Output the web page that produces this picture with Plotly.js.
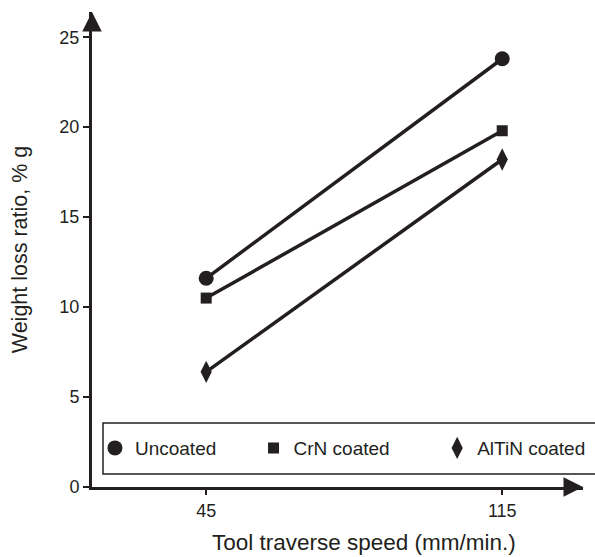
<!DOCTYPE html>
<html>
<head>
<meta charset="utf-8">
<script src="https://cdn.plot.ly/plotly-3.0.1.min.js"></script>
<style>html,body{margin:0;padding:0;background:#fff;}#chart{width:595px;height:557px;}</style>
</head>
<body>
<div id="chart"></div>
<script>
// Data
const speeds = [45, 115];
const uncoated = [11.6, 23.8];
const crnCoated = [10.5, 19.8];
const altinCoated = [6.4, 18.2];
const seriesNames = ["Uncoated", "CrN coated", "AlTiN coated"];
const xTickVals = [45, 115];
const yTickVals = [0, 5, 10, 15, 20, 25];
const xTitle = "Tool traverse speed (mm/min.)";
const yTitle = "Weight loss ratio, % g";

const ink = "#231f20";
const font = "Liberation Sans, Arial, sans-serif";

const seriesData = [uncoated, crnCoated, altinCoated];
const symbols = ["circle", "square", "diamond-tall"];
const sizes = [15, 11, 16];
const legendIds = ["legend", "legend2", "legend3"];

const traces = [];
seriesData.forEach((ys, i) => {
  traces.push({
    x: speeds, y: ys, type: "scatter", mode: "lines+markers",
    name: seriesNames[i], showlegend: false,
    line: {color: ink, width: 3.5},
    marker: {symbol: symbols[i], size: sizes[i], color: ink},
    cliponaxis: false
  });
  traces.push({
    x: [null], y: [null], type: "scatter", mode: "markers",
    name: seriesNames[i], showlegend: true, legend: legendIds[i],
    marker: {symbol: symbols[i], size: sizes[i], color: ink}
  });
});

const legendXs = [0.006, 0.329, 0.703];
const legendCommon = (x) => ({
  x: x, y: 0.082, xanchor: "left", yanchor: "middle",
  bgcolor: "rgba(0,0,0,0)", borderwidth: 0,
  font: {family: font, size: 19, color: ink},
  itemclick: false, itemdoubleclick: false
});

const layout = {
  width: 595, height: 557,
  margin: {l: 92, r: 12, t: 12, b: 70, autoexpand: false},
  paper_bgcolor: "#fff", plot_bgcolor: "#fff",
  font: {family: font, color: ink},
  showlegend: true,
  legend: legendCommon(legendXs[0]),
  legend2: legendCommon(legendXs[1]),
  legend3: legendCommon(legendXs[2]),
  xaxis: {
    range: [18, 134.1], tickvals: xTickVals, ticktext: xTickVals.map(String),
    showgrid: false, zeroline: false, showline: true, linecolor: ink, linewidth: 3,
    ticks: "outside", ticklen: 5, tickwidth: 2, tickcolor: ink,
    tickfont: {family: font, size: 18, color: ink},
    fixedrange: true
  },
  yaxis: {
    range: [0, 26.4], tickvals: yTickVals, ticktext: yTickVals.map(String),
    showgrid: false, zeroline: false, showline: true, linecolor: ink, linewidth: 3,
    ticks: "outside", ticklen: 6, tickwidth: 2, tickcolor: ink,
    tickfont: {family: font, size: 18, color: ink},
    title: {text: yTitle, font: {family: font, size: 21.5, color: ink}, standoff: 26},
    fixedrange: true
  },
  shapes: [
    {type: "rect", xref: "paper", yref: "paper", x0: 0.0224, x1: 1.03, y0: 0.0274, y1: 0.1347,
     line: {color: ink, width: 1.5}, fillcolor: "rgba(0,0,0,0)"}
  ],
  annotations: [
    {xref: "paper", yref: "paper", x: 0.554, y: -0.116, xanchor: "center", yanchor: "middle",
     showarrow: false, text: xTitle, font: {family: font, size: 22.5, color: ink}},
    {xref: "paper", yref: "paper", x: 0, y: 1, ax: 0, ay: 20, axref: "pixel", ayref: "pixel",
     showarrow: true, arrowhead: 2, arrowsize: 1.3, arrowwidth: 3, arrowcolor: ink, text: "", standoff: 0},
    {xref: "paper", yref: "paper", x: 1, y: 0, ax: -20, ay: 0,
     showarrow: true, arrowhead: 2, arrowsize: 1.3, arrowwidth: 3, arrowcolor: ink, text: "", standoff: 0}
  ]
};

Plotly.newPlot("chart", traces, layout, {staticPlot: true, displayModeBar: false});
</script>
</body>
</html>
